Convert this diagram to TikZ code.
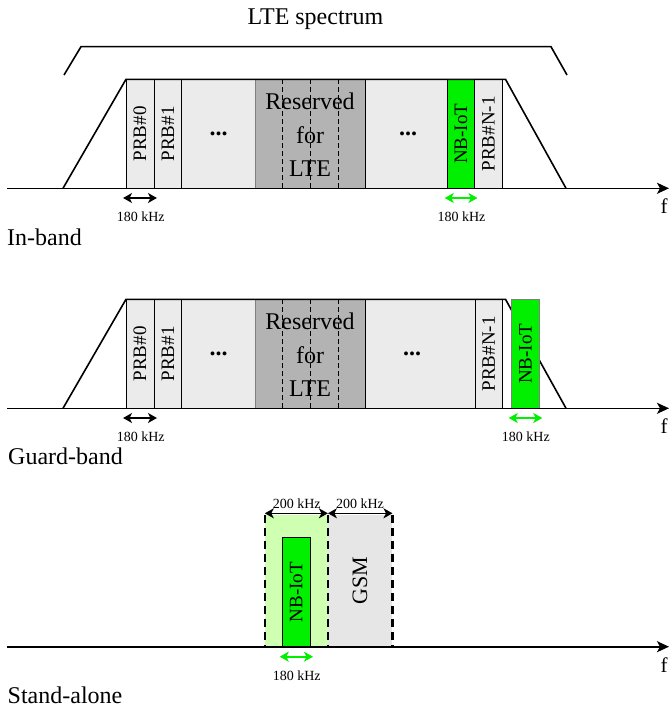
\documentclass[tikz,border=0pt]{standalone}
\usepackage{fontspec}
\setmainfont{Liberation Serif}
\usetikzlibrary{arrows.meta}
\definecolor{prbgray}{HTML}{EBEBEB}
\definecolor{resgray}{HTML}{B3B3B3}
\definecolor{resedge}{HTML}{7F7F7F}
\definecolor{nbgreen}{HTML}{00F000}
\definecolor{lgreen}{HTML}{CFFFB0}
\definecolor{gsmgray}{HTML}{E6E6E6}
\tikzset{
  blk/.style={draw=black, line width=0.9pt, fill=prbgray, inner sep=0pt, rotate=90,
    minimum width=109pt, font=\fontsize{19}{19}\selectfont},
  nbblk/.style={blk, fill=nbgreen},
  plainblk/.style={draw=black, line width=0.9pt, fill=prbgray, inner sep=0pt, minimum height=109pt},
  resblk/.style={draw=resedge, line width=0.9pt, fill=resgray, inner sep=0pt, minimum height=109pt, minimum width=110pt},
  restext/.style={align=center, inner sep=0pt, font=\fontsize{24}{33.5}\selectfont},
  dotsl/.style={inner sep=0pt, font=\fontsize{24}{24}\selectfont\bfseries},
  thindash/.style={line width=0.8pt, dash pattern=on 5pt off 3pt},
  trap/.style={line width=1.6pt, line join=miter},
  axis/.style={line width=1.6pt, -{Stealth[length=12pt,width=11pt,inset=3pt]}},
  dimarr/.style={line width=1.6pt, {Stealth[length=9pt,width=10pt,inset=2.5pt]}-{Stealth[length=9pt,width=10pt,inset=2.5pt]}},
  khz/.style={anchor=base, inner sep=0pt, font=\fontsize{14}{14}\selectfont},
  big/.style={inner sep=0pt, font=\fontsize{24}{24}\selectfont},
  flab/.style={anchor=base, inner sep=0pt, font=\fontsize{21}{21}\selectfont},
  thickdash/.style={line width=2.2pt, dash pattern=on 8pt off 5pt},
}
\begin{document}
\begin{tikzpicture}[x=1pt,y=-1pt]
\useasboundingbox (0,0) rectangle (669,709);

% ---------- Panel 1: In-band ----------
\node[big, anchor=base] (title) at (315.5,25) {LTE spectrum};
\coordinate (br1) at (64,75);
\coordinate (br2) at (81,46.7);
\coordinate (br3) at (551,46.7);
\coordinate (br4) at (567,75);
\draw[trap] (br1) -- (br2) -- (br3) -- (br4);

\node[blk, minimum height=28pt] (a0) at (140,133.8) {PRB\#0};
\node[blk, minimum height=27.7pt] (a1) at (167.85,133.8) {PRB\#1};
\node[plainblk, minimum width=73.3pt] (ad1) at (218.35,133.8) {};
\node[resblk] (ares) at (310,133.8) {};
\draw[thindash] (282.7,79.3) -- (282.7,188.3);
\draw[thindash] (ares.north) -- (ares.south);
\draw[thindash] (338.2,79.3) -- (338.2,188.3);
\node[restext] (arest) at (310,135) {Reserved\\for\\LTE};
\node[plainblk, minimum width=82.7pt] (ad2) at (406.35,133.8) {};
\node[nbblk, minimum height=26.8pt] (anb) at (461.1,133.8) {NB-IoT};
\node[blk, minimum height=27.8pt] (aN) at (488.4,133.8) {PRB\#N-1};
\node[dotsl] (adt1) at (218.5,133.8) {...};
\node[dotsl] (adt2) at (408,133.8) {...};

\coordinate (ta1) at (63,188.3);
\coordinate (ta2) at (126,79.3);
\coordinate (ta3) at (505.5,79.3);
\coordinate (ta4) at (566,188.3);
\draw[trap] (ta1) -- (ta2) -- (ta3) -- (ta4);
\coordinate (axa1) at (7,188.3);
\coordinate (axa2) at (669,188.3);
\draw[axis] (axa1) -- (axa2);
\node[flab] (fa) at (664,213.5) {f};

\draw[dimarr, shorten <=-2.5pt, shorten >=-2.5pt] (a0.north |- 0,198) -- (a0.south |- 0,198);
\draw[dimarr, nbgreen, shorten <=-2.5pt, shorten >=-2.5pt] (anb.north |- 0,198) -- (anb.south |- 0,198);
\node[khz] (ka1) at (140.7,221.7) {180 kHz};
\node[khz] (ka2) at (461.5,221.7) {180 kHz};
\node[big, anchor=base west] (inband) at (7,245) {In-band};

% ---------- Panel 2: Guard-band ----------
\begin{scope}[shift={(0,220)}]
\node[blk, minimum height=28pt] (b0) at (140,133.8) {PRB\#0};
\node[blk, minimum height=27.7pt] (b1) at (167.85,133.8) {PRB\#1};
\node[plainblk, minimum width=73.3pt] (bd1) at (218.35,133.8) {};
\node[resblk] (bres) at (310,133.8) {};
\draw[thindash] (282.7,79.3) -- (282.7,188.3);
\draw[thindash] (bres.north) -- (bres.south);
\draw[thindash] (338.2,79.3) -- (338.2,188.3);
\node[restext] (brest) at (310,135) {Reserved\\for\\LTE};
\node[plainblk, minimum width=110pt] (bd2) at (420,133.8) {};
\node[blk, minimum height=27.3pt] (bN) at (488.65,133.8) {PRB\#N-1};
\node[dotsl] (bdt1) at (218.5,133.8) {...};
\node[dotsl] (bdt2) at (412,133.8) {...};

\coordinate (tb1) at (63,188.3);
\coordinate (tb2) at (126,79.3);
\coordinate (tb3) at (505.5,79.3);
\coordinate (tb4) at (566,188.3);
\draw[trap] (tb1) -- (tb2) -- (tb3) -- (tb4);
\node[nbblk, draw=resedge, minimum height=27.6pt] (bnb) at (525.5,133.8) {NB-IoT};
\coordinate (axb1) at (7,188.3);
\coordinate (axb2) at (669,188.3);
\draw[axis] (axb1) -- (axb2);
\node[flab] (fb) at (664,213.5) {f};

\draw[dimarr, shorten <=-2.5pt, shorten >=-2.5pt] (b0.north |- 0,198) -- (b0.south |- 0,198);
\draw[dimarr, nbgreen, shorten <=-2.5pt, shorten >=-2.5pt] (bnb.north |- 0,198) -- (bnb.south |- 0,198);
\node[khz] (kb1) at (140.7,221.7) {180 kHz};
\node[khz] (kb2) at (525.8,221.7) {180 kHz};
\node[big, anchor=base west] (guard) at (8,244.5) {Guard-band};
\end{scope}

% ---------- Panel 3: Stand-alone ----------
\node[fill=lgreen, inner sep=0pt, minimum width=62.7pt, minimum height=131.7pt] (c1) at (296.35,580.85) {};
\node[fill=gsmgray, inner sep=0pt, rotate=90, minimum width=131.7pt, minimum height=64.6pt,
      font=\fontsize{22}{22}\selectfont] (gsm) at (360,580.85) {GSM};
\node[nbblk, minimum width=109.4pt, minimum height=27.3pt] (cnb) at (296.35,592) {NB-IoT};
\draw[thickdash] (c1.north west) -- (c1.south west);
\draw[thickdash] (c1.north east) -- (c1.south east);
\draw[thickdash] (gsm.south |- c1.north) -- (gsm.south |- c1.south);
\coordinate (axc1) at (7,646.7);
\coordinate (axc2) at (669,646.7);
\draw[axis] (axc1) -- (axc2);
\node[flab] (fc) at (664,672) {f};

\draw[dimarr] (c1.north west |- 0,513.3) -- (c1.north east |- 0,513.3);
\draw[dimarr] (c1.north east |- 0,513.3) -- (gsm.south |- 0,513.3);
\node[khz] (kc1) at (296.7,508) {200 kHz};
\node[khz] (kc2) at (360,508) {200 kHz};
\draw[dimarr, nbgreen, shorten <=-2.5pt, shorten >=-2.5pt] (cnb.north |- 0,656.7) -- (cnb.south |- 0,656.7);
\node[khz] (kc3) at (296.7,680) {180 kHz};
\node[big, anchor=base west] (stand) at (7.5,703) {Stand-alone};
\end{tikzpicture}
\end{document}
